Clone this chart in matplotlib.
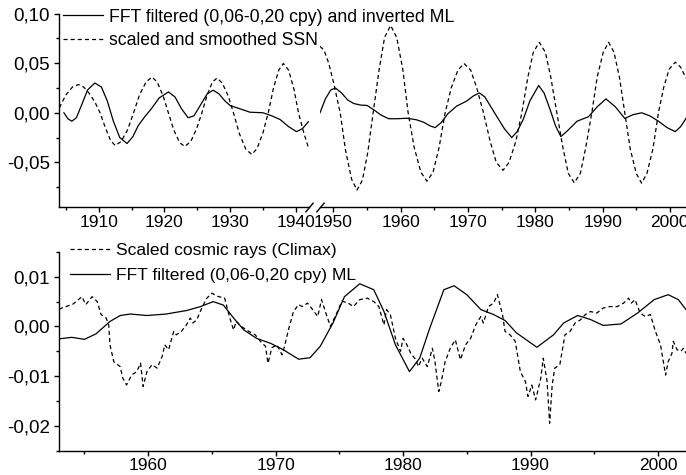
import matplotlib
matplotlib.use("Agg")
import matplotlib.pyplot as plt
from matplotlib.ticker import MultipleLocator, FuncFormatter

plt.rcParams['font.family'] = ['Liberation Sans', 'DejaVu Sans']
plt.rcParams['font.size'] = 13

# ---- top panel, part before the axis break ----
ml_years_a = [1904.7, 1905.3, 1905.9, 1906.6, 1907.4, 1908.3, 1909.4, 1910.4, 1911.3, 1912.2,
              1913.2, 1914.3, 1915.2, 1916.0, 1917.0, 1918.0, 1919.2, 1920.6, 1921.6, 1922.6,
              1923.6, 1924.5, 1925.5, 1926.5, 1927.4, 1928.3, 1929.2, 1930.0, 1931.5, 1933.0,
              1935.0, 1936.3, 1937.6, 1938.9, 1940.1, 1941.0, 1941.9]
ml_vals_a = [0.0, -0.006, -0.0085, -0.005, 0.008, 0.023, 0.030, 0.026, 0.012, -0.008,
             -0.025, -0.031, -0.024, -0.013, -0.004, 0.004, 0.015, 0.021, 0.016, 0.004,
             -0.005, -0.003, 0.008, 0.019, 0.0228, 0.019, 0.012, 0.0073, 0.004, 0.0006,
             0.0, -0.003, -0.0068, -0.014, -0.019, -0.016, -0.009]

ssn_years_a = [1904.0, 1905.0, 1906.0, 1906.9, 1907.7, 1908.5, 1909.4, 1910.2, 1911.0, 1911.8,
               1912.5, 1913.4, 1914.4, 1915.3, 1916.2, 1917.2, 1918.1, 1918.9, 1919.8, 1920.6,
               1921.4, 1922.3, 1923.1, 1924.0, 1924.9, 1925.7, 1926.5, 1927.3, 1928.0, 1928.8,
               1929.7, 1930.5, 1931.4, 1932.4, 1933.3, 1934.1, 1935.0, 1935.8, 1936.6, 1937.4,
               1938.1, 1938.9, 1939.7, 1940.4, 1941.2, 1941.9]
ssn_vals_a = [0.005, 0.018, 0.026, 0.0285, 0.026, 0.020, 0.011, 0.0, -0.015, -0.028,
              -0.033, -0.029, -0.017, 0.0, 0.018, 0.031, 0.036, 0.031, 0.017, 0.0,
              -0.017, -0.030, -0.034, -0.029, -0.016, 0.0, 0.018, 0.031, 0.035, 0.030,
              0.017, 0.0, -0.021, -0.037, -0.042, -0.036, -0.020, 0.0, 0.025, 0.043,
              0.0497, 0.043, 0.024, 0.0, -0.020, -0.035]

# ---- top panel, part after the axis break ----
ml_years_b = [1948.0, 1948.8, 1949.6, 1950.3, 1951.2, 1952.1, 1953.0, 1954.0, 1955.0, 1956.0,
              1957.0, 1958.2, 1959.5, 1960.9, 1962.3, 1963.4, 1964.3, 1965.1, 1966.0, 1967.0,
              1968.3, 1969.8, 1970.8, 1971.7, 1972.5, 1973.4, 1974.3, 1975.4, 1976.5, 1977.3,
              1978.2, 1979.2, 1980.5, 1981.3, 1982.2, 1983.0, 1983.8, 1984.8, 1986.2, 1987.9,
              1989.2, 1990.5, 1991.9, 1993.3, 1994.5, 1995.8, 1997.0, 1998.3, 1999.6, 2000.8,
              2001.6, 2002.4]
ml_vals_b = [0.0, 0.014, 0.023, 0.025, 0.020, 0.013, 0.0094, 0.0078, 0.0074, 0.003,
             -0.002, -0.006, -0.006, -0.0055, -0.007, -0.0095, -0.013, -0.015, -0.010, -0.001,
             0.0067, 0.0118, 0.017, 0.020, 0.016, 0.006, -0.004, -0.016, -0.025, -0.019,
             -0.0068, 0.012, 0.0275, 0.020, 0.0033, -0.013, -0.024, -0.018, -0.0085, -0.004,
             0.006, 0.014, 0.006, -0.0057, -0.002, 0.0, -0.003, -0.0085, -0.015, -0.019,
             -0.014, -0.0057]

ssn_years_b = [1948.0, 1948.6, 1949.3, 1950.1, 1951.0, 1951.8, 1952.7, 1953.5, 1954.3, 1955.1,
               1955.9, 1956.8, 1957.6, 1958.5, 1959.4, 1960.3, 1961.1, 1962.0, 1963.0, 1963.9,
               1964.8, 1965.7, 1966.6, 1967.5, 1968.5, 1969.4, 1970.4, 1971.3, 1972.3, 1973.3,
               1974.2, 1975.2, 1976.1, 1977.1, 1978.0, 1978.9, 1979.7, 1980.6, 1981.5, 1982.3,
               1983.2, 1984.1, 1984.9, 1985.8, 1986.7, 1987.5, 1988.4, 1989.2, 1990.1, 1990.9,
               1991.7, 1992.5, 1993.3, 1994.1, 1995.0, 1995.8, 1996.6, 1997.5, 1998.3, 1999.1,
               1999.9, 2000.8, 2001.6, 2002.4]
ssn_vals_b = [0.067, 0.063, 0.050, 0.028, 0.0, -0.038, -0.067, -0.078, -0.068, -0.040,
              0.0, 0.044, 0.076, 0.088, 0.076, 0.044, 0.0, -0.035, -0.060, -0.069,
              -0.060, -0.035, 0.0, 0.025, 0.043, 0.0497, 0.043, 0.025, 0.0, -0.029,
              -0.050, -0.058, -0.050, -0.029, 0.0, 0.036, 0.061, 0.071, 0.061, 0.036,
              0.0, -0.035, -0.061, -0.0706, -0.061, -0.035, 0.0, 0.036, 0.061, 0.071,
              0.061, 0.036, 0.0, -0.036, -0.061, -0.071, -0.061, -0.036, 0.0, 0.026,
              0.044, 0.051, 0.046, 0.035]

# ---- bottom panel ----
ml_years_c = [1953.0, 1954.0, 1955.0, 1955.9, 1957.0, 1957.8, 1958.6, 1959.9, 1961.4, 1963.0,
              1964.1, 1965.1, 1965.9, 1966.7, 1967.5, 1968.5, 1969.6, 1970.6, 1971.8, 1972.7,
              1973.5, 1974.5, 1975.4, 1976.6, 1977.7, 1978.5, 1979.4, 1980.5, 1981.3, 1982.1,
              1983.2, 1984.0, 1985.0, 1986.1, 1987.1, 1988.0, 1988.9, 1990.5, 1991.8, 1992.6,
              1993.7, 1994.7, 1995.7, 1997.1, 1998.4, 1999.7, 2000.8, 2001.6, 2002.2]
ml_vals_c = [-0.0025, -0.0022, -0.0026, -0.0015, 0.001, 0.0022, 0.0025, 0.0022, 0.0025, 0.0032,
             0.004, 0.005, 0.0043, 0.0017, -0.0007, -0.0024, -0.0034, -0.0047, -0.0066, -0.0063,
             -0.004, 0.0007, 0.006, 0.0086, 0.0074, 0.003, -0.0037, -0.0091, -0.0064, -0.0003,
             0.0074, 0.0082, 0.0064, 0.0034, 0.0024, 0.0012, -0.0013, -0.0042, -0.0017, 0.0007,
             0.0022, 0.0014, 0.0002, 0.0005, 0.0027, 0.0054, 0.0064, 0.0054, 0.0034]

cr_years = [1953.0, 1954.1, 1954.8, 1955.1, 1955.6, 1956.0, 1956.3, 1956.7, 1956.9, 1957.0,
            1957.3, 1957.8, 1958.0, 1958.3, 1958.7, 1959.1, 1959.4, 1959.6, 1959.9, 1960.3,
            1960.7, 1961.1, 1961.3, 1961.6, 1962.0, 1962.2, 1962.6, 1963.0, 1963.3, 1963.5,
            1963.8, 1964.2, 1964.6, 1965.0, 1965.4, 1966.0, 1966.4, 1966.7, 1966.9, 1967.3,
            1967.9, 1968.4, 1968.8, 1969.2, 1969.4, 1969.7, 1970.1, 1970.5, 1970.7, 1971.0,
            1971.4, 1971.8, 1972.1, 1972.5, 1972.9, 1973.3, 1973.6, 1973.9, 1974.3, 1974.8,
            1975.2, 1975.7, 1976.1, 1976.6, 1977.2, 1977.7, 1978.1, 1978.5, 1978.7, 1979.0,
            1979.4, 1979.8, 1980.0, 1980.3, 1980.6, 1981.0, 1981.2, 1981.5, 1981.9, 1982.3,
            1982.5, 1982.8, 1983.0, 1983.3, 1983.7, 1984.1, 1984.5, 1984.9, 1985.3, 1985.7,
            1986.1, 1986.3, 1986.7, 1987.1, 1987.4, 1987.8, 1988.0, 1988.4, 1988.8, 1989.2,
            1989.6, 1989.8, 1990.1, 1990.4, 1990.8, 1991.0, 1991.3, 1991.5, 1991.7, 1991.9,
            1992.3, 1992.7, 1993.1, 1993.5, 1993.9, 1994.3, 1994.7, 1995.2, 1995.7, 1996.2,
            1996.8, 1997.3, 1997.7, 1997.9, 1998.2, 1998.6, 1999.0, 1999.4, 1999.8, 2000.2,
            2000.6, 2000.8, 2001.1, 2001.2, 2001.5, 2001.8, 2002.0, 2002.2]
cr_vals = [0.0035, 0.0045, 0.006, 0.0044, 0.006, 0.005, 0.0024, 0.0017, 0.0003, -0.0037,
           -0.0071, -0.0081, -0.0104, -0.0118, -0.0098, -0.0091, -0.0074, -0.0121, -0.0091, -0.0077,
           -0.0084, -0.006, -0.0037, -0.0047, -0.001, -0.0017, -0.001, 0.0003, 0.0017, 0.0007,
           0.0013, 0.0037, 0.0057, 0.0067, 0.0061, 0.0057, 0.0017, -0.0007, 0.001, 0.0,
           -0.001, -0.0017, -0.003, -0.004, -0.0074, -0.0043, -0.0037, -0.0057, -0.004, -0.0007,
           0.003, 0.0044, 0.004, 0.0047, 0.0034, 0.002, 0.0054, 0.003, 0.0, 0.0027,
           0.0051, 0.0047, 0.004, 0.0054, 0.0057, 0.005, 0.004, 0.0003, 0.0034, 0.0024,
           -0.0024, -0.005, -0.0024, -0.0037, -0.0054, -0.0067, -0.0081, -0.0064, -0.0081, -0.0044,
           -0.0071, -0.0131, -0.0111, -0.0071, -0.0044, -0.0027, -0.0067, -0.0037, -0.0024, 0.0003,
           0.002, 0.0007, 0.004, 0.0047, 0.0064, 0.0024, -0.001, -0.0017, -0.003, -0.0091,
           -0.0111, -0.0141, -0.0118, -0.0148, -0.0105, -0.0064, -0.0111, -0.0195, -0.0118, -0.0084,
           -0.0077, -0.0017, -0.001, 0.0007, 0.0013, 0.0024, 0.003, 0.0027, 0.0037, 0.004,
           0.004, 0.0047, 0.0057, 0.0047, 0.0054, 0.0027, 0.002, 0.0024, -0.001, -0.0037,
           -0.0098, -0.0071, -0.0054, -0.003, -0.0047, -0.005, -0.0044, -0.0054]


def comma_fmt(v, pos):
    if abs(v) < 1e-12:
        v = 0.0
    return f"{v:.2f}".replace('.', ',')


def style_axis(ax, left=True):
    ax.set_facecolor('none')
    for side in ('top', 'right'):
        ax.spines[side].set_visible(False)
    ax.spines['bottom'].set_linewidth(1.0)
    ax.spines['left'].set_linewidth(1.0)
    ax.tick_params(which='major', direction='out', length=3.5, width=1.0)
    ax.tick_params(which='minor', direction='out', length=2.5, width=1.0)
    ax.tick_params(axis='x', labelsize=12.5, pad=2)
    ax.tick_params(axis='y', labelsize=13.5, pad=3)
    ax.xaxis.set_major_locator(MultipleLocator(10))
    ax.xaxis.set_minor_locator(MultipleLocator(5))
    if not left:
        ax.spines['left'].set_visible(False)
        ax.tick_params(axis='y', which='both', left=False, labelleft=False)


DASH = (0, (3.3, 2.4))
LW = 0.9

W, H = 686, 475
fig = plt.figure(figsize=(W / 100, H / 100), dpi=100)

# pixel positions of the panels
ax_a = fig.add_axes([59 / W, 1 - 207 / H, 250 / W, 193.4 / H])
ax_b = fig.add_axes([320 / W, 1 - 207 / H, 366 / W, 193.4 / H])
ax_c = fig.add_axes([59 / W, 1 - 450.5 / H, 627 / W, 198.5 / H])

for ax in (ax_a, ax_b):
    ax.set_ylim(-0.095, 0.10)
    ax.yaxis.set_major_locator(MultipleLocator(0.05))
    ax.yaxis.set_minor_locator(MultipleLocator(0.025))
    ax.yaxis.set_major_formatter(FuncFormatter(comma_fmt))

ax_a.set_xlim(1903.95, 1942.0)
ax_b.set_xlim(1948.0, 2002.4)
style_axis(ax_a)
style_axis(ax_b, left=False)

h_ml, = ax_a.plot(ml_years_a, ml_vals_a, color='black', lw=LW,
                  label='FFT filtered (0,06-0,20 cpy) and inverted ML')
h_ssn, = ax_a.plot(ssn_years_a, ssn_vals_a, color='black', lw=LW, ls=DASH,
                   label='scaled and smoothed SSN')
ax_b.plot(ml_years_b, ml_vals_b, color='black', lw=LW)
ax_b.plot(ssn_years_b, ssn_vals_b, color='black', lw=LW, ls=DASH)

# break marks on the x axis
brk = dict(marker=[(-1, -1.2), (1, 1.2)], markersize=7, linestyle='none',
           color='black', mec='black', mew=1.0, clip_on=False)
ax_a.plot([1], [0], transform=ax_a.transAxes, **brk)
ax_b.plot([0], [0], transform=ax_b.transAxes, **brk)

# legend spans across the break, so it belongs to the figure
fig.legend(handles=[h_ml, h_ssn], loc='upper left', bbox_to_anchor=(63 / W, 1 - 8.5 / H),
           frameon=False, borderpad=0, borderaxespad=0,
           handlelength=2.25, handletextpad=0.33, labelspacing=0.36, fontsize=12.7)

# bottom panel
ax_c.set_xlim(1953.0, 2002.2)
ax_c.set_ylim(-0.025, 0.015)
ax_c.yaxis.set_major_locator(MultipleLocator(0.01))
ax_c.yaxis.set_minor_locator(MultipleLocator(0.005))
ax_c.yaxis.set_major_formatter(FuncFormatter(comma_fmt))
style_axis(ax_c)

h_cr, = ax_c.plot(cr_years, cr_vals, color='black', lw=LW, ls=DASH,
                  label='Scaled cosmic rays (Climax)')
h_ml2, = ax_c.plot(ml_years_c, ml_vals_c, color='black', lw=LW,
                   label='FFT filtered (0,06-0,20 cpy) ML')
fig.legend(handles=[h_cr, h_ml2], loc='upper left', bbox_to_anchor=(70 / W, 1 - 243 / H),
           frameon=False, borderpad=0, borderaxespad=0,
           handlelength=2.3, handletextpad=0.3, labelspacing=0.55, fontsize=12.6)

fig.savefig('out.png', dpi=100)
